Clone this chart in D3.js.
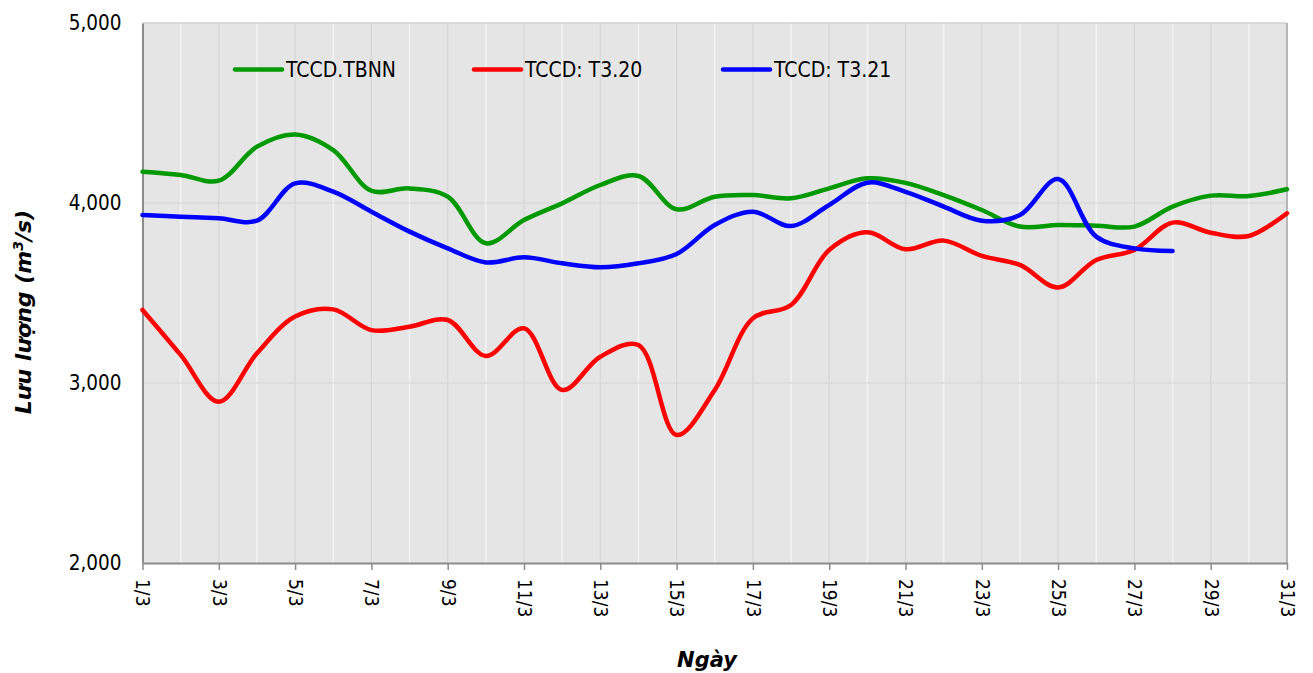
<!DOCTYPE html>
<html>
<head>
<meta charset="utf-8">
<script src="https://cdn.jsdelivr.net/npm/d3@7"></script>
<style>
  html, body { margin: 0; padding: 0; background: #ffffff; }
  svg { display: block; }
</style>
</head>
<body>
<svg id="chart" width="1313" height="673"></svg>
<script>
// ---- Data ----
const dayLabels = ["1/3","2/3","3/3","4/3","5/3","6/3","7/3","8/3","9/3","10/3",
  "11/3","12/3","13/3","14/3","15/3","16/3","17/3","18/3","19/3","20/3",
  "21/3","22/3","23/3","24/3","25/3","26/3","27/3","28/3","29/3","30/3","31/3"];

const seriesNames = ["TCCD.TBNN", "TCCD: T3.20", "TCCD: T3.21"];

const tbnn = [4174,4156,4124,4313,4381,4294,4068,4081,4035,3776,
  3905,3998,4100,4150,3965,4035,4044,4026,4081,4137,
  4112,4044,3961,3869,3878,3874,3869,3980,4041,4039,4076];

const t320 = [3406,3156,2896,3165,3369,3409,3294,3313,3350,3150,
  3304,2961,3146,3211,2711,2961,3359,3433,3739,3837,
  3743,3791,3706,3656,3531,3683,3739,3891,3835,3817,3943];

const t321 = [3933,3924,3915,3902,4109,4063,3952,3841,3748,3670,
  3698,3665,3643,3665,3717,3878,3952,3872,3989,4113,
  4062,3980,3902,3933,4133,3813,3748,3733];

const yTicks = [2000, 3000, 4000, 5000];

// ---- Layout ----
const W = 1313, H = 673;
const plot = { left: 142.5, right: 1287, top: 23, bottom: 563 };
const colors = ["#009900", "#ff0000", "#0000ff"];
const FONT = "Tahoma, 'DejaVu Sans Condensed', 'Liberation Sans', sans-serif";
const TITLE_FONT = "Verdana, 'DejaVu Sans', sans-serif";

const svg = d3.select("#chart");

const x = d3.scalePoint().domain(dayLabels).range([plot.left, plot.right]);
const y = d3.scaleLinear().domain([2000, 5000]).range([plot.bottom, plot.top]);

// plot background
svg.append("rect")
  .attr("x", plot.left).attr("y", plot.top)
  .attr("width", plot.right - plot.left).attr("height", plot.bottom - plot.top)
  .attr("fill", "#e5e5e5");

// vertical gridlines: white on even days, grey on odd (ticked) days
svg.append("g").selectAll("line")
  .data(dayLabels.filter((d, i) => i > 0))
  .join("line")
  .attr("x1", d => x(d)).attr("x2", d => x(d))
  .attr("y1", plot.top).attr("y2", plot.bottom)
  .attr("stroke", (d) => dayLabels.indexOf(d) % 2 === 1 ? "#f3f3f3" : "#d6d6d6")
  .attr("stroke-width", (d) => dayLabels.indexOf(d) % 2 === 1 ? 1.6 : 1.2);

// horizontal gridlines
svg.append("g").selectAll("line")
  .data(yTicks.filter(v => v > 2000))
  .join("line")
  .attr("x1", plot.left).attr("x2", plot.right)
  .attr("y1", d => y(d)).attr("y2", d => y(d))
  .attr("stroke", "#d6d6d6").attr("stroke-width", 1.2);

// plot border top/right
svg.append("line").attr("x1", plot.left).attr("x2", plot.right)
  .attr("y1", plot.top).attr("y2", plot.top).attr("stroke", "#cfcfcf").attr("stroke-width", 1.2);
svg.append("line").attr("x1", plot.right).attr("x2", plot.right)
  .attr("y1", plot.top).attr("y2", plot.bottom).attr("stroke", "#a8a8a8").attr("stroke-width", 1.5);

// x axis
const xAxis = d3.axisBottom(x)
  .tickValues(dayLabels.filter((d, i) => i % 2 === 0))
  .tickSize(7).tickSizeOuter(0);
const gx = svg.append("g").attr("transform", `translate(0,${plot.bottom})`).call(xAxis);
gx.select(".domain").attr("stroke", "#8c8c8c").attr("stroke-width", 2);
gx.selectAll(".tick line").attr("stroke", "#8c8c8c").attr("stroke-width", 1.5);
gx.selectAll(".tick text")
  .attr("font-family", FONT).attr("font-size", 19).attr("fill", "#000")
  .attr("transform", "rotate(90)")
  .attr("x", 16).attr("y", 0).attr("dy", "0.35em")
  .attr("text-anchor", "start");

// y axis
const yAxis = d3.axisLeft(y).tickValues(yTicks).tickSize(0).tickPadding(21)
  .tickFormat(d3.format(","));
const gy = svg.append("g").attr("transform", `translate(${plot.left},0)`).call(yAxis);
gy.select(".domain").attr("stroke", "#8c8c8c").attr("stroke-width", 2);
gy.selectAll(".tick text")
  .attr("font-family", FONT).attr("font-size", 20.5).attr("fill", "#000");

// lines
const line = d3.line()
  .x((d, i) => x(dayLabels[i]))
  .y(d => y(d))
  .curve(d3.curveCatmullRom.alpha(0.5));

const allSeries = [tbnn, t320, t321];
svg.append("g").selectAll("path")
  .data(allSeries)
  .join("path")
  .attr("d", d => line(d))
  .attr("fill", "none")
  .attr("stroke", (d, i) => colors[i])
  .attr("stroke-width", 4.5)
  .attr("stroke-linecap", "round")
  .attr("stroke-linejoin", "round");

// legend
const legendX = [235, 474, 723];
const legendY = 69.5;
const lg = svg.append("g");
seriesNames.forEach((name, i) => {
  lg.append("line")
    .attr("x1", legendX[i]).attr("x2", legendX[i] + 47)
    .attr("y1", legendY).attr("y2", legendY)
    .attr("stroke", colors[i]).attr("stroke-width", 4.5).attr("stroke-linecap", "round");
  lg.append("text")
    .attr("x", legendX[i] + 51).attr("y", legendY).attr("dy", "0.36em")
    .attr("font-family", FONT).attr("font-size", 21).attr("fill", "#000")
    .text(name);
});

// axis titles
svg.append("text")
  .attr("transform", `translate(31,${312}) rotate(-90)`)
  .attr("text-anchor", "middle")
  .attr("font-family", TITLE_FONT).attr("font-size", 22)
  .attr("font-weight", "bold").attr("font-style", "italic")
  .attr("fill", "#000")
  .html("Lưu lượng (m<tspan dy='-8' font-size='14'>3</tspan><tspan dy='8'>/s)</tspan>");

svg.append("text")
  .attr("x", 707).attr("y", 667)
  .attr("text-anchor", "middle")
  .attr("font-family", TITLE_FONT).attr("font-size", 21)
  .attr("font-weight", "bold").attr("font-style", "italic")
  .attr("fill", "#000")
  .text("Ngày");
</script>
</body>
</html>
